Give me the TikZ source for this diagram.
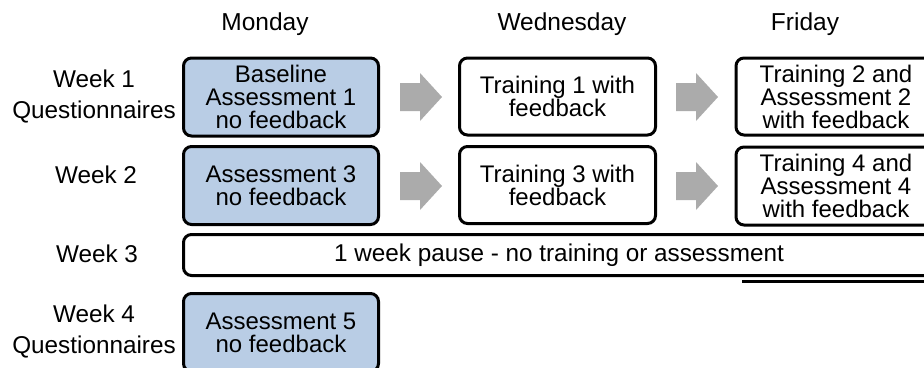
\documentclass[tikz,border=0pt]{standalone}
\usepackage{fontspec}
\setmainfont{Liberation Sans}
\definecolor{boxblue}{HTML}{B9CDE5}
\definecolor{arrgray}{HTML}{ABABAB}
\begin{document}
\begin{tikzpicture}[x=1pt,y=-1pt,
  boxbase/.style={draw=black,line width=3pt,rounded corners=8pt,align=center,
    font=\fontsize{24}{23}\selectfont,inner sep=0pt},
  monbox/.style={boxbase,fill=boxblue,minimum width=195pt},
  plainbox/.style={boxbase,fill=white,minimum width=196pt},
  rowlabel/.style={align=center,font=\fontsize{24.3}{31}\selectfont,inner sep=0pt},
  header/.style={font=\fontsize{24.5}{26}\selectfont,inner sep=0pt},
  blockarrow/.style={fill=arrgray,draw=none}]
\useasboundingbox (0,0) rectangle (924,367);
% headers
\node[header] (hmon) at (265,24) {Monday};
\node[header] (hwed) at (562,24) {Wednesday};
\node[header] (hfri) at (805,24) {Friday};
% row labels
\node[rowlabel] (w1) at (94,96) {Week 1\\Questionnaires};
\node[rowlabel] (w2) at (96,175) {Week 2};
\node[rowlabel] (w3) at (97,254) {Week 3};
\node[rowlabel] (w4) at (94,331) {Week 4\\Questionnaires};
% row 1
\node[monbox,minimum height=78pt] (m1) at (281,97) {Baseline\\Assessment 1\\no feedback};
\node[plainbox,minimum height=77pt] (we1) at (557.5,96.5) {Training 1 with\\feedback};
\node[plainbox,minimum width=200pt,minimum height=77pt] (f1) at (836,96.5) {Training 2 and\\Assessment 2\\with feedback};
% row 2
\node[monbox,minimum height=78pt] (m2) at (281,185.5) {Assessment 3\\no feedback};
\node[plainbox,minimum height=77pt] (we2) at (557.5,185) {Training 3 with\\feedback};
\node[plainbox,minimum width=200pt,minimum height=78pt] (f2) at (836,186) {Training 4 and\\Assessment 4\\with feedback};
% week 3 bar
\node[plainbox,minimum width=760pt,minimum height=41pt] (pause) at (563.5,255) {};
\node[font=\fontsize{24.3}{26}\selectfont,inner sep=0pt] (pausetxt) at (559,255) {1 week pause - no training or assessment};
\coordinate (s1) at (742,281);
\coordinate (s2) at (930,281);
\draw[line width=3pt] (s1) -- (s2);
% week 4
\node[monbox,minimum height=78pt] (m4) at (281,332.5) {Assessment 5\\no feedback};
% block arrows
\foreach \name/\xa/\yc in {a1/400/97, a2/676/97, a3/400/186, a4/676/186}{
  \fill[blockarrow] (\xa,\yc-14) -- (\xa+20,\yc-14) -- (\xa+20,\yc-24)
     -- (\xa+42,\yc) -- (\xa+20,\yc+24) -- (\xa+20,\yc+14) -- (\xa,\yc+14) -- cycle;
}
\end{tikzpicture}
\end{document}
